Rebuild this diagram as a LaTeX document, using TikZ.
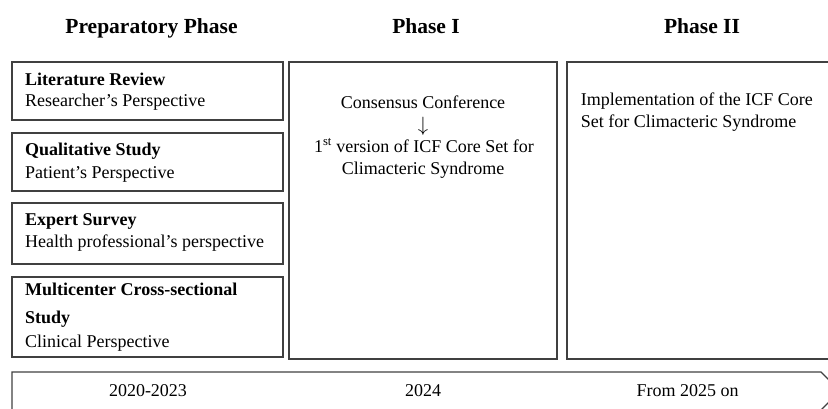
\documentclass[tikz,border=0pt]{standalone}
\usepackage{fontspec}
\setmainfont{Liberation Serif}
\usepackage{tikz}
\definecolor{PhaseLine}{RGB}{64,64,64}

\begin{document}
\begin{tikzpicture}[x=1bp,y=1bp,box/.style n args={2}{draw=PhaseLine,line width=1.1bp,rectangle,inner sep=0pt,outer sep=0pt,minimum width=#1bp,minimum height=#2bp},hdr/.style={font=\fontsize{21.5bp}{26bp}\selectfont\bfseries,inner sep=0pt,anchor=base},txt/.style={font=\fontsize{18bp}{22bp}\selectfont,inner sep=0pt,anchor=base west}]
\useasboundingbox (0,0) rectangle (828,408);
\clip (0,0) rectangle (828,408);
\foreach \x/\1 [count=\i] in %
{151.5/Preparatory Phase,426/Phase I,702/Phase II} {
   \node[hdr](h\i) at (\x,375) {\1};
}
   \node[box={271}{58}](p0) at(147.5,317) {};
   \node[box={271}{58}](p1) at(147.5,246) {};
   \node[box={271}{61}](p2) at(147.5,174.5) {};
   \node[box={271}{80}](p3) at(147.5,91) {};
   \node[box={268}{297}](m0) at(423,197.5) {};
   \node[box={273}{297}](m1) at(703.5,197.5) {};
\foreach \y/\1 [count=\i] in %
{322.3/Literature Review,253/Qualitative Study,183/Expert Survey,112.3/Multicenter Cross-sectional,84.7/Study} {
   \node[txt](b\i) at (25,\y) {\textbf{\1}};
}
\foreach \y/\1 [count=\i] in %
{301.3/Researcher’s Perspective,229.7/Patient’s Perspective,160.7/Health professional’s perspective,61/Clinical Perspective} {
   \node[txt](s\i) at (25,\y) {\1};
}
   \node[txt,anchor=base](c0) at(423,300) {Consensus Conference};
   \node[txt,anchor=center,font=\fontsize{20bp}{24bp}\selectfont](c1) at(423,281.5) {$\downarrow$};
   \node[txt,anchor=base](c2) at(424,256) {1\textsuperscript{st} version of ICF Core Set for};
   \node[txt,anchor=base](c3) at(423,234) {Climacteric Syndrome};
   \node[txt](r0) at(580.7,303) {Implementation of the ICF Core};
   \node[txt](r1) at(580.7,280.7) {Set for Climacteric Syndrome};
\draw[draw=PhaseLine,line width=1.1bp] (12,36) -- (821,36) -- (840,17) -- (821,-2) -- (12,-2) -- cycle;
\foreach \x/\1 [count=\i] in %
{148/2020-2023,423/2024,687.5/From 2025 on} {
   \node[txt,anchor=base](y\i) at (\x,11.3) {\1};
}
\end{tikzpicture}
\end{document}
